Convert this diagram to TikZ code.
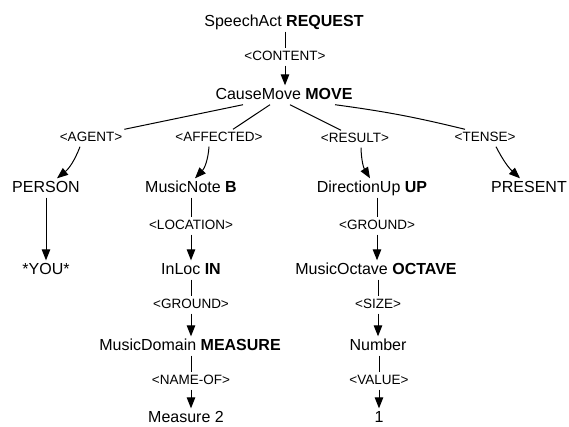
\documentclass[tikz,border=0pt]{standalone}
\usepackage{fontspec}
\setmainfont{Liberation Sans}
\usetikzlibrary{arrows.meta}

\tikzset{
  concept/.style={inner sep=2pt,text height=12pt,text depth=3pt,font=\fontsize{16}{16}\selectfont},
  role/.style={inner sep=2pt,text height=10pt,text depth=3pt,font=\fontsize{13.5}{13.5}\selectfont},
  link/.style={line width=1pt},
  arc/.style={line width=1pt,-{Triangle[length=11pt,width=8.5pt]}}
}

\begin{document}
\begin{tikzpicture}[x=1pt,y=-1pt]
        \useasboundingbox (0,0) rectangle (569,426);
        % concepts
        \node at (284,22)  [concept] (req)     {SpeechAct \textbf{REQUEST}};
        \node at (284,95)  [concept] (move)    {CauseMove \textbf{MOVE}};
        \node at (46,188)  [concept] (person)  {PERSON};
        \node at (191,188) [concept] (note)    {MusicNote \textbf{B}};
        \node at (372,188) [concept] (up)      {DirectionUp \textbf{UP}};
        \node at (529,188) [concept] (present) {PRESENT};
        \node at (46,270)  [concept] (you)     {*YOU*};
        \node at (191,270) [concept] (inloc)   {InLoc \textbf{IN}};
        \node at (190,346) [concept] (measure) {MusicDomain \textbf{MEASURE}};
        \node at (186,418) [concept] (meastwo) {Measure 2};
        \node at (376,270) [concept] (octave)  {MusicOctave \textbf{OCTAVE}};
        \node at (378,346) [concept] (number)  {Number};
        \node at (379,418) [concept] (one)     {1};
        % roles
        \node at (285,57)  [role] (content)  {<CONTENT>};
        \node at (91,138)  [role] (agent)    {<AGENT>};
        \node at (219,138) [role] (affected) {<AFFECTED>};
        \node at (355,139) [role] (result)   {<RESULT>};
        \node at (485,138) [role] (tense)    {<TENSE>};
        \node at (191,226) [role] (location) {<LOCATION>};
        \node at (191,305) [role] (groundin) {<GROUND>};
        \node at (191,381) [role] (nameof)   {<NAME-OF>};
        \node at (377,226) [role] (groundup) {<GROUND>};
        \node at (378,305) [role] (size)     {<SIZE>};
        \node at (379,381) [role] (value)    {<VALUE>};
        % straight chains
        \foreach \a/\r/\b in {req/content/move, note/location/inloc, inloc/groundin/measure,
                              measure/nameof/meastwo, up/groundup/octave, octave/size/number,
                              number/value/one} {
            \draw [link] (\r.north |- \a.south) -- (\r.north);
            \draw [arc] (\r.south) -- (\r.south |- \b.north);
        }
        \draw [arc] (person.south) -- (you.north);
        % fan out of MOVE
        \draw [link] ([xshift=-41pt]move.south) -- (agent.north east);
        \draw [link] ([xshift=-14pt]move.south) -- ([xshift=14pt]affected.north);
        \draw [link] ([xshift=6pt]move.south) -- ([xshift=-14pt]result.north);
        \draw [link] ([xshift=51pt]move.south) to[bend left=3] ([xshift=-20pt]tense.north);
        \draw [arc] ([xshift=-11pt]agent.south) to[bend left=15] ([xshift=11pt]person.north);
        \draw [arc] ([xshift=-10pt]affected.south) to[bend left=20] ([xshift=4pt]note.north);
        \draw [arc] ([xshift=6pt]result.south) to[bend right=15] ([xshift=-2pt]up.north);
        \draw [arc] ([xshift=11pt]tense.south) to[bend right=10] ([xshift=-9pt]present.north);
    \end{tikzpicture}
\end{document}
